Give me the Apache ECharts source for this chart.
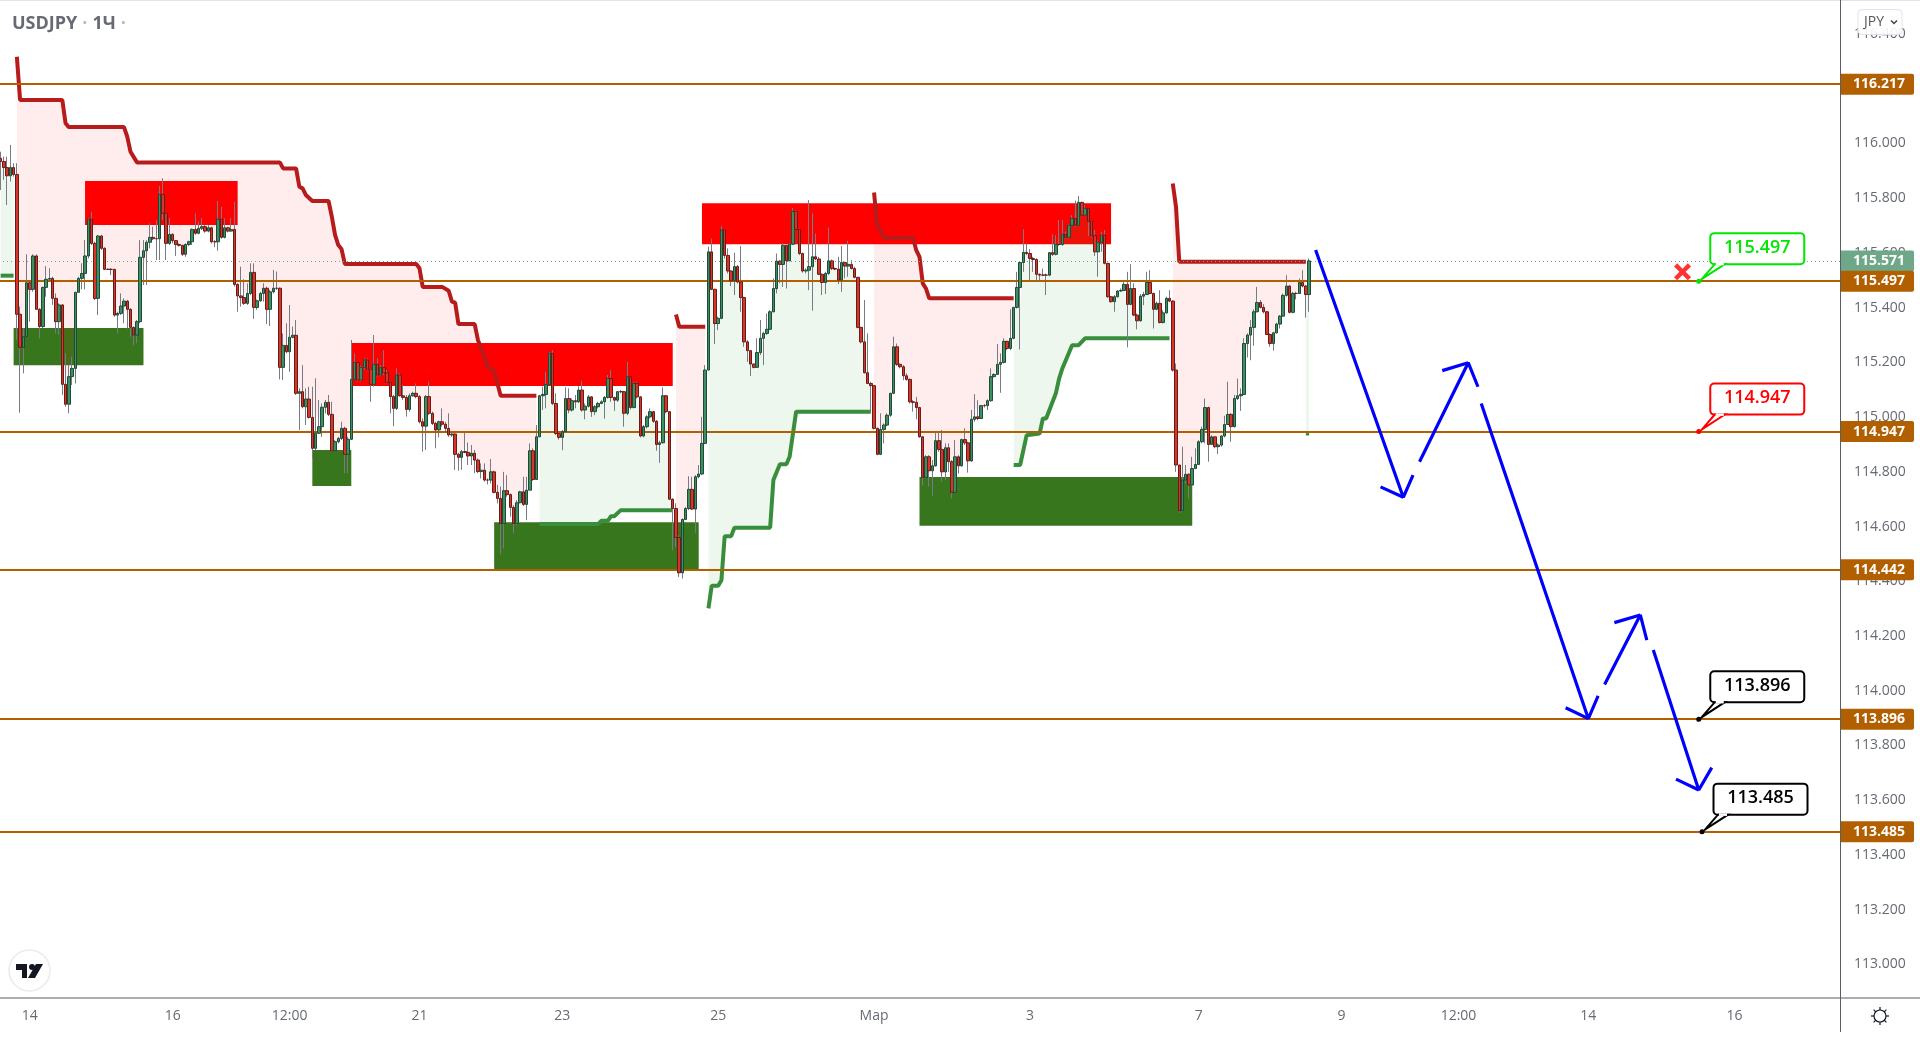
<!DOCTYPE html>
<html>
<head>
<meta charset="utf-8">
<title>USDJPY</title>
<script src="https://cdn.jsdelivr.net/npm/echarts@6/dist/echarts.min.js"></script>
<style>
html,body{margin:0;padding:0;background:#fff}
#chart{width:1920px;height:1040px}
</style>
</head>
<body>
<div id="chart"></div>
<script>
// prices, one entry per hourly bar
var firstOpen = 115.946;
var closes = [
115.934,115.912,115.882,115.912,115.887,115.376,115.255,115.294,115.491,115.467,115.589,115.394,115.331,115.474,115.504,115.507,
115.434,115.349,115.410,115.120,115.047,115.148,115.178,115.456,115.507,115.525,115.589,115.723,115.635,115.434,115.662,115.617,
115.540,115.540,115.540,115.373,115.379,115.406,115.424,115.394,115.328,115.300,115.349,115.584,115.608,115.639,115.657,115.652,
115.652,115.814,115.745,115.635,115.668,115.645,115.631,115.628,115.595,115.631,115.641,115.686,115.672,115.690,115.696,115.680,
115.692,115.641,115.641,115.723,115.657,115.692,115.680,115.686,115.485,115.443,115.437,115.416,115.452,115.529,115.401,115.425,
115.452,115.471,115.394,115.458,115.471,115.471,115.182,115.262,115.239,115.292,115.299,115.087,115.093,115.038,115.066,114.999,
114.886,114.941,114.965,115.036,115.054,115.010,114.877,114.910,114.922,114.959,114.864,114.919,115.138,115.200,115.136,115.181,
115.209,115.175,115.120,115.193,115.154,115.181,115.162,115.127,115.075,115.032,115.154,115.078,115.072,115.028,115.078,115.087,
115.075,114.983,114.967,115.075,115.014,114.977,114.953,114.983,114.974,114.959,114.935,114.938,114.864,114.853,114.874,114.871,
114.858,114.868,114.843,114.801,
114.806,114.770,114.770,114.800,114.725,114.703,114.611,114.731,114.717,114.670,114.611,114.687,114.727,114.681,114.733,114.877,
114.772,114.928,115.078,115.083,115.119,115.233,115.050,114.940,114.926,114.947,115.068,115.026,115.060,115.056,115.099,115.026,
115.040,115.074,115.020,115.038,115.050,115.056,115.072,115.141,115.072,115.062,115.093,115.093,115.014,115.148,115.035,115.123,
115.074,114.931,114.965,115.001,115.020,114.985,114.900,114.906,115.078,115.020,114.700,114.666,114.560,114.431,114.626,114.666,
114.736,114.664,114.782,114.792,114.904,115.172,115.604,115.467,115.342,115.361,115.684,115.591,115.534,115.498,115.550,115.494,
115.437,115.275,115.243,115.194,115.182,115.236,115.288,115.306,115.321,115.385,115.470,115.570,115.558,115.628,115.571,115.632,
115.752,115.686,115.598,115.534,115.537,115.550,115.586,115.578,115.522,115.492,115.525,115.571,115.543,115.541,115.501,115.565,
115.552,115.558,115.543,115.511,115.328,115.275,115.162,115.123,115.115,114.959,114.864,114.955,114.971,115.007,115.087,115.257,
115.193,115.184,115.151,115.138,115.056,115.054,115.035,114.928,114.780,114.855,114.804,114.822,114.914,114.882,114.800,114.888,
114.837,114.725,114.855,114.822,114.918,114.906,114.840,114.992,115.001,114.995,115.042,115.042,115.060,115.148,115.156,115.193,
115.200,115.277,115.251,115.288,115.401,115.474,115.565,115.602,115.598,115.580,115.576,115.522,115.519,115.519,115.519,115.601,
115.595,115.631,115.631,115.668,115.657,115.701,115.726,115.701,115.785,115.738,115.763,115.716,115.663,115.604,115.639,115.665,
115.562,115.440,115.422,115.440,115.461,115.463,115.485,115.412,115.470,115.373,115.352,115.442,115.448,115.492,115.452,115.394,
115.416,115.346,115.381,115.434,115.424,115.172,114.825,114.658,114.770,114.791,114.752,114.812,114.827,114.910,114.955,115.035,
114.900,114.928,114.892,114.898,114.931,114.973,115.010,114.965,115.068,115.078,115.083,115.269,115.300,115.328,115.385,115.419,
115.401,115.385,115.302,115.269,115.308,115.340,115.369,115.445,115.479,115.383,115.452,115.452,115.492,115.479,115.448,115.571
];
var highs = [
115.970,115.952,115.952,115.995,115.928,115.928,115.404,115.324,115.595,115.501,115.595,115.595,115.398,115.477,115.552,115.544,
115.513,115.452,115.416,115.413,115.233,115.190,115.221,115.458,115.513,115.562,115.647,115.727,115.751,115.641,115.666,115.666,
115.621,115.544,115.544,115.542,115.385,115.452,115.434,115.428,115.398,115.331,115.355,115.647,115.647,115.647,115.708,115.696,
115.720,115.845,115.873,115.747,115.727,115.672,115.647,115.635,115.629,115.635,115.645,115.690,115.745,115.714,115.727,115.702,
115.702,115.696,115.647,115.790,115.769,115.727,115.696,115.727,115.787,115.489,115.550,115.504,115.489,115.562,115.562,115.430,
115.458,115.489,115.477,115.465,115.538,115.532,115.474,115.306,115.343,115.410,115.331,115.355,115.105,115.190,115.105,115.111,
115.111,115.142,115.063,115.050,115.063,115.081,115.056,114.916,114.928,114.983,114.965,114.928,115.282,115.233,115.202,115.187,
115.215,115.215,115.178,115.300,115.215,115.190,115.245,115.172,115.130,115.081,115.178,115.160,115.117,115.081,115.087,115.093,
115.123,115.081,114.995,115.081,115.130,115.020,114.983,114.987,115.032,114.983,115.014,114.947,114.941,114.870,114.880,114.947,
114.907,114.898,114.880,114.849,
114.831,114.831,114.776,114.847,114.804,114.752,114.746,114.800,114.788,114.721,114.678,114.697,114.731,114.782,114.782,114.904,
114.886,114.971,115.081,115.111,115.166,115.239,115.245,115.087,114.947,114.953,115.109,115.105,115.068,115.081,115.113,115.133,
115.050,115.081,115.077,115.044,115.056,115.062,115.077,115.154,115.172,115.074,115.096,115.099,115.096,115.202,115.150,115.129,
115.129,115.077,114.971,115.007,115.032,115.022,114.989,114.914,115.109,115.081,115.022,114.703,114.685,114.569,114.630,114.672,
114.784,114.782,114.788,114.825,115.001,115.190,115.623,115.653,115.470,115.367,115.698,115.686,115.617,115.537,115.601,115.556,
115.625,115.440,115.282,115.245,115.196,115.288,115.355,115.312,115.379,115.391,115.507,115.598,115.574,115.635,115.630,115.637,
115.765,115.757,115.690,115.601,115.544,115.793,115.745,115.671,115.586,115.525,115.531,115.693,115.576,115.547,115.586,115.625,
115.568,115.645,115.574,115.550,115.513,115.330,115.428,115.306,115.129,115.117,114.962,115.014,114.977,115.014,115.089,115.294,
115.269,115.196,115.190,115.160,115.141,115.062,115.074,115.038,114.931,114.861,114.861,114.843,114.947,114.947,114.953,114.904,
114.904,114.843,114.916,114.861,114.922,114.959,114.910,115.026,115.084,115.062,115.044,115.048,115.065,115.178,115.160,115.267,
115.233,115.288,115.279,115.394,115.403,115.531,115.568,115.687,115.635,115.614,115.586,115.580,115.525,115.543,115.525,115.604,
115.669,115.665,115.720,115.720,115.678,115.706,115.738,115.791,115.808,115.787,115.775,115.766,115.720,115.684,115.645,115.678,
115.684,115.564,115.442,115.446,115.464,115.470,115.495,115.531,115.559,115.489,115.379,115.450,115.458,115.531,115.537,115.455,
115.422,115.464,115.391,115.440,115.464,115.428,115.196,114.825,114.892,114.825,114.794,114.855,114.886,114.916,114.965,115.068,
115.038,114.934,114.928,114.904,114.934,115.005,115.129,115.014,115.081,115.141,115.105,115.288,115.306,115.355,115.394,115.476,
115.428,115.413,115.388,115.306,115.312,115.345,115.373,115.452,115.519,115.483,115.458,115.458,115.507,115.537,115.483,115.580
];
var lows = [
115.830,115.867,115.775,115.861,115.879,115.282,115.016,115.160,115.294,115.349,115.458,115.392,115.288,115.324,115.440,115.495,
115.410,115.306,115.300,115.081,115.038,115.014,115.117,115.123,115.471,115.467,115.467,115.580,115.629,115.428,115.373,115.611,
115.538,115.538,115.519,115.367,115.306,115.373,115.343,115.324,115.294,115.263,115.270,115.343,115.483,115.483,115.617,115.647,
115.574,115.574,115.720,115.574,115.629,115.635,115.589,115.623,115.589,115.586,115.625,115.629,115.666,115.668,115.684,115.674,
115.675,115.635,115.621,115.608,115.652,115.653,115.675,115.678,115.477,115.385,115.404,115.410,115.410,115.446,115.359,115.392,
115.422,115.422,115.340,115.333,115.452,115.465,115.138,115.136,115.233,115.166,115.288,115.081,114.953,115.032,114.971,114.995,
114.849,114.880,114.938,114.928,115.014,115.004,114.874,114.874,114.904,114.916,114.795,114.795,114.916,115.136,115.130,115.130,
115.175,115.170,115.056,115.111,115.148,115.150,115.154,115.123,115.014,114.967,115.026,115.075,115.063,115.002,115.020,115.075,
115.069,114.977,114.874,114.880,115.008,114.971,114.886,114.926,114.965,114.947,114.928,114.928,114.807,114.804,114.807,114.868,
114.825,114.825,114.795,114.795,
114.776,114.764,114.754,114.758,114.721,114.685,114.499,114.520,114.709,114.636,114.575,114.605,114.685,114.675,114.624,114.736,
114.767,114.770,114.926,115.026,115.032,115.117,115.044,114.934,114.918,114.879,114.943,115.014,115.020,115.032,115.052,115.020,
114.992,115.035,115.001,115.007,115.032,115.050,114.994,115.068,115.056,115.023,115.056,115.087,114.965,115.007,115.028,115.032,
115.068,114.926,114.926,114.959,114.995,114.979,114.877,114.833,114.904,115.014,114.697,114.514,114.526,114.416,114.410,114.624,
114.660,114.660,114.577,114.776,114.788,114.901,115.172,115.464,115.267,115.318,115.358,115.580,115.525,115.479,115.446,115.489,
115.385,115.257,115.202,115.150,115.178,115.182,115.227,115.190,115.300,115.318,115.383,115.452,115.489,115.476,115.470,115.571,
115.629,115.684,115.592,115.528,115.525,115.464,115.389,115.574,115.519,115.446,115.450,115.519,115.537,115.537,115.486,115.458,
115.507,115.513,115.540,115.507,115.324,115.269,115.160,115.121,115.014,114.955,114.861,114.861,114.904,114.967,115.001,115.084,
115.187,115.178,115.135,115.133,115.050,115.020,114.992,114.925,114.749,114.776,114.746,114.713,114.819,114.873,114.764,114.770,
114.800,114.703,114.724,114.794,114.819,114.898,114.797,114.837,114.983,114.989,114.995,115.035,115.026,115.056,115.145,115.154,
115.089,115.196,115.245,115.245,115.285,115.397,115.247,115.531,115.592,115.498,115.531,115.501,115.501,115.515,115.446,115.515,
115.589,115.591,115.626,115.626,115.653,115.653,115.698,115.696,115.698,115.735,115.736,115.662,115.657,115.589,115.513,115.604,
115.558,115.436,115.418,115.385,115.437,115.458,115.461,115.255,115.409,115.369,115.321,115.349,115.409,115.446,115.450,115.324,
115.391,115.342,115.342,115.379,115.420,115.166,114.800,114.650,114.654,114.758,114.703,114.748,114.812,114.825,114.904,114.904,
114.837,114.898,114.886,114.865,114.892,114.926,114.971,114.910,114.962,115.062,115.023,115.081,115.218,115.208,115.261,115.383,
115.397,115.379,115.300,115.257,115.243,115.306,115.324,115.367,115.440,115.379,115.379,115.430,115.450,115.474,115.364,115.385
];

var barCount = 567;
var tickBars = [9,53,89,129,173,221,269,317,369,413,449,489,534];
var tickTexts = ['14','16','12:00','21','23','25','Мар','3','7','9','12:00','14','16'];
var priceTicks = [113,113.2,113.4,113.6,113.8,114,114.2,114.4,114.6,114.8,115,115.2,115.4,115.6,115.8,116,116.2,116.4];

var levels = [116.217,115.497,114.947,114.442,113.896,113.485];
var lastPrice = 115.571;

// trend stop lines, [bar, price]
var redRun1 = [[5,116.317],[6,116.159],[19,116.159],[20,116.074],[21,116.060],[38,116.060],[39,116.025],[40,115.970],[42,115.931],[86,115.931],[87,115.909],[91,115.909],[92,115.842],[93,115.836],[94,115.812],[96,115.790],[101,115.790],[102,115.733],[103,115.666],[104,115.629],[105,115.614],[106,115.560],[128,115.560],[129,115.544],[130,115.476],[136,115.476],[138,115.462],[139,115.422],[140,115.418],[141,115.340],[146,115.340],[147,115.282],[149,115.221],[150,115.184],[152,115.169],[154,115.078],[165,115.078]];
var redRun2 = [[208,115.375],[209,115.330],[217,115.330]];
var redRun3 = [[269,115.821],[270,115.696],[271,115.684],[272,115.656],[281,115.656],[282,115.610],[283,115.586],[284,115.489],[285,115.470],[286,115.434],[312,115.434]];
var redRun4 = [[361,115.854],[362,115.769],[363,115.568],[402,115.568]];
var greenRun0 = [[0,115.517],[4,115.517]];
var greenRun1 = [[166,114.609],[184,114.609],[185,114.621],[187,114.621],[188,114.638],[189,114.638],[191,114.660],[207,114.660]];
var greenRun2 = [[218,114.301],[219,114.384],[221,114.384],[222,114.404],[223,114.565],[225,114.565],[226,114.596],[237,114.596],[238,114.770],[240,114.828],[242,114.828],[243,114.855],[245,115.020],[268,115.020]];
var greenRun3 = [[312,114.825],[314,114.825],[316,114.934],[320,114.940],[321,114.995],[322,114.995],[325,115.087],[326,115.141],[327,115.178],[330,115.263],[332,115.263],[334,115.288],[360,115.288]];
var greenRun4 = [[402,114.940],[403,114.940]];

// supply and demand boxes: first bar, last bar, top price, bottom price
var redZones = [[26,73,115.863,115.702],[108,207,115.271,115.114],[216,342,115.782,115.632]];
var greenZones = [[4,44,115.326,115.190],[96,108,114.880,114.748],[152,215,114.616,114.443],[283,367,114.781,114.603]];

// hand drawn forecast
var blueLegs = [
  [[405,115.611],[432,114.707],[435,114.788]],
  [[425,114.745],[432,114.707]],
  [[437,114.837],[452,115.199],[455,115.111]],
  [[444,115.170],[452,115.199]],
  [[456,115.050],[489,113.898],[492,113.981]],
  [[482,113.938],[489,113.898]],
  [[494,114.023],[505,114.277],[507,114.185]],
  [[497,114.249],[505,114.277]],
  [[509,114.149],[523,113.637],[527,113.719]],
  [[516,113.677],[523,113.637]]
];
var calloutBars = [523,523,523,524];
var calloutPrices = [115.497,114.947,113.896,113.485];
var calloutColors = ['#00e600','#ff0000','#000000','#000000'];
var stopMark = [518,115.531];

var categories = [];
for (var b = 0; b < barCount; b++) {
  var at = tickBars.indexOf(b);
  categories.push(at >= 0 ? tickTexts[at] : '');
}
var opens = [firstOpen].concat(closes.slice(0, -1));
var wickData = closes.map(function (c, i) { return [opens[i], c, lows[i], highs[i]]; });
var bodyData = closes.map(function (c, i) {
  return [opens[i], c, Math.min(opens[i], c), Math.max(opens[i], c)];
});

var clouds = [
  { run: redRun1, fill: 'rgba(255,0,0,0.07)' },
  { run: redRun2, fill: 'rgba(255,0,0,0.07)' },
  { run: redRun3, fill: 'rgba(255,0,0,0.07)' },
  { run: redRun4, fill: 'rgba(255,0,0,0.07)' },
  { run: greenRun0, fill: 'rgba(76,175,80,0.1)' },
  { run: greenRun1, fill: 'rgba(76,175,80,0.1)' },
  { run: greenRun2, fill: 'rgba(76,175,80,0.1)' },
  { run: greenRun3, fill: 'rgba(76,175,80,0.1)' },
  { run: greenRun4, fill: 'rgba(76,175,80,0.1)' }
];

var FONT = '"Open Sans", sans-serif';
var myChart = echarts.init(document.getElementById('chart'));

function stopLine(run, color) {
  return {
    type: 'line', data: run, z: 3, showSymbol: false, silent: true, animation: false,
    lineStyle: { color: color, width: 4 }
  };
}

function levelLabel(bg) {
  return {
    show: true, position: 'end', distance: 0, align: 'left',
    formatter: function (p) { return Number(p.value).toFixed(3); },
    backgroundColor: bg, color: '#fff', fontFamily: FONT, fontSize: 14, fontWeight: 700,
    padding: [4, 9, 3, 13], borderRadius: [0, 2, 2, 0]
  };
}

function drawZone(zone, color, api) {
  var a = api.coord([zone[0], zone[2]]);
  var b = api.coord([zone[1], zone[3]]);
  return {
    type: 'rect',
    shape: { x: a[0], y: a[1], width: b[0] - a[0], height: b[1] - a[1] },
    style: { fill: color }
  };
}

var series = [
  {
    type: 'custom', name: 'green zones', z: 1, silent: true, animation: false,
    data: greenZones.map(function (z, i) { return [i]; }),
    renderItem: function (params, api) { return drawZone(greenZones[params.dataIndex], '#38761d', api); }
  },
  {
    type: 'custom', name: 'red zones', z: 1, silent: true, animation: false,
    data: redZones.map(function (z, i) { return [i]; }),
    renderItem: function (params, api) { return drawZone(redZones[params.dataIndex], '#ff0000', api); }
  },
  {
    // fill between each stop line and the middle of the candles
    type: 'custom', name: 'clouds', z: 2, silent: true, animation: false,
    data: clouds.map(function (c, i) { return [i]; }),
    renderItem: function (params, api) {
      var cloud = clouds[params.dataIndex];
      var pts = cloud.run.map(function (p) { return api.coord(p); });
      var first = cloud.run[0][0];
      var last = cloud.run[cloud.run.length - 1][0];
      for (var i = last; i >= first; i--) {
        pts.push(api.coord([i, (highs[i] + lows[i]) / 2]));
      }
      return { type: 'polygon', shape: { points: pts }, style: { fill: cloud.fill } };
    }
  },
  stopLine(redRun1, '#b71c1c'), stopLine(redRun2, '#b71c1c'), stopLine(redRun3, '#b71c1c'), stopLine(redRun4, '#b71c1c'),
  stopLine(greenRun0, '#388e3c'), stopLine(greenRun1, '#388e3c'), stopLine(greenRun2, '#388e3c'), stopLine(greenRun3, '#388e3c'), stopLine(greenRun4, '#388e3c'),
  {
    type: 'candlestick', name: 'wicks', data: wickData, z: 4, barWidth: 1, silent: true, animation: false,
    itemStyle: { color: '#787b86', color0: '#787b86', borderColor: '#787b86', borderColor0: '#787b86', borderColorDoji: '#787b86', borderWidth: 1 }
  },
  {
    type: 'candlestick', name: 'bodies', data: bodyData, z: 5, barWidth: 3, silent: true, animation: false,
    itemStyle: { color: '#3b8f63', color0: '#d8352a', borderColor: '#1f4a36', borderColor0: '#671c18', borderColorDoji: '#671c18', borderWidth: 1 }
  },
  {
    type: 'line', name: 'last price', data: [], z: 6, silent: true, animation: false,
    markLine: {
      silent: true, symbol: 'none', animation: false, precision: 3,
      lineStyle: { color: '#6ea888', width: 1, type: [1, 3] },
      label: levelLabel('#6ea888'),
      data: [{ yAxis: lastPrice }]
    }
  },
  {
    type: 'line', name: 'levels', data: [], z: 7, silent: true, animation: false,
    markLine: {
      silent: true, symbol: 'none', animation: false, precision: 3,
      lineStyle: { color: '#b25f00', width: 2, type: 'solid' },
      label: levelLabel('#b25f00'),
      data: levels.map(function (v) { return { yAxis: v }; })
    }
  }
];

blueLegs.forEach(function (leg) {
  series.push({
    type: 'line', data: leg, z: 8, showSymbol: false, silent: true, animation: false,
    lineStyle: { color: '#0000ff', width: 3.2 }
  });
});

series.push({
  type: 'scatter', name: 'stop', data: [stopMark], z: 9, silent: true, animation: false,
  symbol: 'path://M3 0L8 5L13 0L16 3L11 8L16 13L13 16L8 11L3 16L0 13L5 8L0 3Z',
  symbolSize: 17, itemStyle: { color: '#ff0000' }
});

series.push({
  type: 'custom', name: 'callouts', z: 9, silent: true, animation: false, clip: false,
  data: calloutPrices.map(function (p, i) { return [calloutBars[i], p]; }),
  renderItem: function (params, api) {
    var i = params.dataIndex;
    var pos = api.coord([calloutBars[i], calloutPrices[i]]);
    var col = calloutColors[i];
    var dx = pos[0], dy = pos[1];
    return {
      type: 'group',
      children: [
        { type: 'rect', shape: { x: dx + 11.5, y: dy - 48, width: 94, height: 31, r: 4 }, style: { fill: '#fff', stroke: col, lineWidth: 2 } },
        { type: 'polygon', shape: { points: [[dx + 3, dy - 2], [dx + 16, dy - 17], [dx + 26, dy - 17]] }, style: { fill: '#fff', stroke: col, lineWidth: 2 } },
        { type: 'line', shape: { x1: dx + 17, y1: dy - 17, x2: dx + 25, y2: dy - 17 }, style: { stroke: '#fff', lineWidth: 2.5 } },
        { type: 'circle', shape: { cx: dx, cy: dy, r: 2.5 }, style: { fill: col } },
        {
          type: 'text',
          style: {
            x: dx + 58.5, y: dy - 33.5, text: calloutPrices[i].toFixed(3), fill: col,
            font: '600 18px "Open Sans", sans-serif', textAlign: 'center', textVerticalAlign: 'middle'
          }
        }
      ]
    };
  }
});

var option = {
  backgroundColor: '#fff',
  animation: false,
  title: {
    left: 12, top: 15, padding: 0,
    text: '{a|USDJPY} {d|·} {a|1Ч} {d|·}',
    textStyle: {
      rich: {
        a: { fontFamily: FONT, fontSize: 18, color: '#666a72' },
        d: { fontFamily: FONT, fontSize: 18, color: '#b8bbc2' }
      }
    }
  },
  grid: { left: -1, right: 80, top: 0, height: 998, outerBoundsMode: 'none' },
  xAxis: {
    type: 'category', data: categories, boundaryGap: true,
    axisLine: { show: false }, axisTick: { show: false }, splitLine: { show: false },
    axisLabel: { interval: 0, hideOverlap: false, margin: 11, color: '#666a72', fontFamily: FONT, fontSize: 14 }
  },
  yAxis: {
    type: 'value', position: 'right', min: 112.877, max: 116.5245, scale: true,
    axisLine: { show: false }, axisTick: { show: false }, splitLine: { show: false },
    axisLabel: {
      customValues: priceTicks, margin: 14, color: '#666a72', fontFamily: FONT, fontSize: 14,
      formatter: function (v) { return Number(v).toFixed(3); }
    }
  },
  series: series,
  graphic: [
    { type: 'rect', z: 20, shape: { x: 0, y: 0, width: 1920, height: 1 }, style: { fill: '#e0e3eb' } },
    { type: 'line', z: 20, shape: { x1: 1840.5, y1: 0, x2: 1840.5, y2: 1032 }, style: { stroke: '#5a5d66', lineWidth: 1 } },
    { type: 'line', z: 20, shape: { x1: 0, y1: 998, x2: 1920, y2: 998 }, style: { stroke: '#5a5d66', lineWidth: 1 } },
    // currency button
    { type: 'rect', z: 21, shape: { x: 1858, y: 9.5, width: 44, height: 25, r: 4 }, style: { fill: 'rgba(255,255,255,0.9)', stroke: '#e0e3eb', lineWidth: 1 } },
    { type: 'text', z: 22, style: { x: 1864, y: 22, text: 'JPY', fill: '#555', font: '14px "Open Sans", sans-serif', textVerticalAlign: 'middle' } },
    { type: 'polyline', z: 22, shape: { points: [[1891, 20.5], [1894, 23.5], [1897, 20.5]] }, style: { stroke: '#444', lineWidth: 1.5, fill: 'none' } },
    // logo badge
    { type: 'circle', z: 21, shape: { cx: 29.5, cy: 970.5, r: 20.5 }, style: { fill: '#fff', stroke: '#ebebeb', lineWidth: 1.5 } },
    { type: 'polygon', z: 22, shape: { points: [[16, 964], [27, 964], [27, 978], [22, 978], [22, 970], [16, 970]] }, style: { fill: '#131722' } },
    { type: 'circle', z: 22, shape: { cx: 32, cy: 967, r: 3 }, style: { fill: '#131722' } },
    { type: 'polygon', z: 22, shape: { points: [[36, 964], [43, 964], [35, 978], [28, 978]] }, style: { fill: '#131722' } },
    // settings gear
    { type: 'circle', z: 21, shape: { cx: 1880, cy: 1016, r: 6 }, style: { fill: '#fff', stroke: '#131722', lineWidth: 1.2 } },
    { type: 'line', z: 21, shape: { x1: 1880, y1: 1007, x2: 1880, y2: 1010 }, style: { stroke: '#131722', lineWidth: 1.2 } },
    { type: 'line', z: 21, shape: { x1: 1880, y1: 1022, x2: 1880, y2: 1025 }, style: { stroke: '#131722', lineWidth: 1.2 } },
    { type: 'line', z: 21, shape: { x1: 1871, y1: 1016, x2: 1874, y2: 1016 }, style: { stroke: '#131722', lineWidth: 1.2 } },
    { type: 'line', z: 21, shape: { x1: 1886, y1: 1016, x2: 1889, y2: 1016 }, style: { stroke: '#131722', lineWidth: 1.2 } },
    { type: 'line', z: 21, shape: { x1: 1873.6, y1: 1009.6, x2: 1875.8, y2: 1011.8 }, style: { stroke: '#131722', lineWidth: 1.2 } },
    { type: 'line', z: 21, shape: { x1: 1886.4, y1: 1009.6, x2: 1884.2, y2: 1011.8 }, style: { stroke: '#131722', lineWidth: 1.2 } },
    { type: 'line', z: 21, shape: { x1: 1873.6, y1: 1022.4, x2: 1875.8, y2: 1020.2 }, style: { stroke: '#131722', lineWidth: 1.2 } },
    { type: 'line', z: 21, shape: { x1: 1886.4, y1: 1022.4, x2: 1884.2, y2: 1020.2 }, style: { stroke: '#131722', lineWidth: 1.2 } }
  ]
};
myChart.setOption(option);
</script>
</body>
</html>
